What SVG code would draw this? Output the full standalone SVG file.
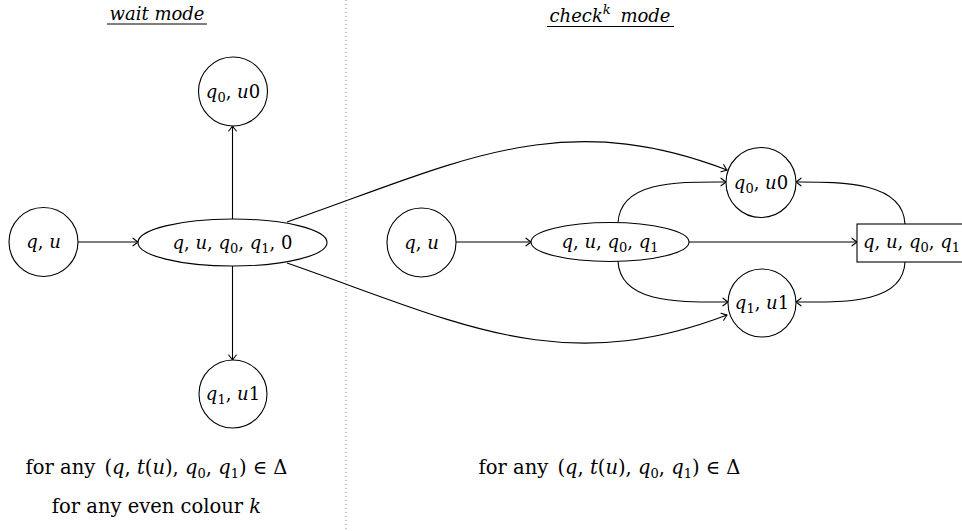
<svg xmlns="http://www.w3.org/2000/svg" width="962" height="531" viewBox="0 0 962 531">
<style>
text{font-family:"DejaVu Serif",serif;font-size:18px;fill:#000;text-anchor:middle}
.i{font-style:italic}
.s{font-size:13px}
.b{font-size:19.5px}
.n{fill:#fff;stroke:#000;stroke-width:1.1}
.e{fill:none;stroke:#000;stroke-width:1.1;marker-end:url(#ah)}
.u{stroke:#000;stroke-width:1.1}
</style>
<defs>
<marker id="ah" viewBox="-6 -5 8 10" markerWidth="8" markerHeight="10" refX="0" refY="0" orient="auto" markerUnits="userSpaceOnUse">
<path d="M-5,-3.8 Q-1.5,-1 0,0 Q-1.5,1 -5,3.8" fill="none" stroke="#000" stroke-width="1.1" stroke-linecap="round"/>
</marker>
</defs>
<rect width="962" height="531" fill="#fff"/>
<line x1="346" y1="0" x2="346" y2="531" stroke="#888" stroke-width="1" stroke-dasharray="1 3"/>
<g id="titles">
<text x="157" y="20" class="i">wait mode</text>
<line class="u" x1="107" y1="24" x2="207" y2="24"/>
<text x="610" y="22"><tspan class="i">check</tspan><tspan class="s i" dy="-8">k</tspan><tspan class="i" dy="8" dx="4"> mode</tspan></text>
<line class="u" x1="547" y1="26.5" x2="674" y2="26.5"/>
</g>
<g id="connectors">
<path class="e" d="M78,242 L138,242"/>
<path class="e" d="M232.5,219 L232.5,126"/>
<path class="e" d="M232.5,266 L232.5,360"/>
<path class="e" d="M287,222 C457,163 559,105.6 727,170"/>
<path class="e" d="M287,263 C457,322 559,379 727,315"/>
<path class="e" d="M456,242 L531,242"/>
<path class="e" d="M618,223 C620,180 680,182 726,182"/>
<path class="e" d="M618,261 C620,304 680,302 728,302"/>
<path class="e" d="M689,242 L857,242"/>
<path class="e" d="M905,224 C903,181 840,182 796,182"/>
<path class="e" d="M905,262 C903,305 840,302 796,302"/>
</g>
<g id="w_qu"><circle class="n" cx="43.5" cy="242" r="34.5"/><text x="43.5" y="248"><tspan class="i">q</tspan>, <tspan class="i">u</tspan></text></g>
<g id="w_mid"><ellipse class="n" cx="232.5" cy="242.5" rx="94.5" ry="23.5"/><text x="232.5" y="248.5"><tspan class="i">q</tspan>, <tspan class="i">u</tspan>, <tspan class="i">q</tspan><tspan class="s" dy="4">0</tspan><tspan dy="-4">, </tspan><tspan class="i">q</tspan><tspan class="s" dy="4">1</tspan><tspan dy="-4">, 0</tspan></text></g>
<g id="w_q0"><circle class="n" cx="233" cy="91.5" r="34.5"/><text x="233" y="97.5"><tspan class="i">q</tspan><tspan class="s" dy="4">0</tspan><tspan dy="-4">, </tspan><tspan class="i">u</tspan>0</text></g>
<g id="w_q1"><circle class="n" cx="233" cy="394" r="34"/><text x="233" y="400"><tspan class="i">q</tspan><tspan class="s" dy="4">1</tspan><tspan dy="-4">, </tspan><tspan class="i">u</tspan>1</text></g>
<g id="c_qu"><circle class="n" cx="421.5" cy="242.5" r="34.5"/><text x="421.5" y="248.5"><tspan class="i">q</tspan>, <tspan class="i">u</tspan></text></g>
<g id="c_mid"><ellipse class="n" cx="610" cy="242" rx="79" ry="19.5"/><text x="610" y="248"><tspan class="i">q</tspan>, <tspan class="i">u</tspan>, <tspan class="i">q</tspan><tspan class="s" dy="4">0</tspan><tspan dy="-4">, </tspan><tspan class="i">q</tspan><tspan class="s" dy="4">1</tspan></text></g>
<g id="c_q0"><circle class="n" cx="761" cy="182.5" r="35"/><text x="761" y="188.5"><tspan class="i">q</tspan><tspan class="s" dy="4">0</tspan><tspan dy="-4">, </tspan><tspan class="i">u</tspan>0</text></g>
<g id="c_q1"><circle class="n" cx="762" cy="303" r="34"/><text x="762" y="309"><tspan class="i">q</tspan><tspan class="s" dy="4">1</tspan><tspan dy="-4">, </tspan><tspan class="i">u</tspan>1</text></g>
<g id="c_rect"><rect class="n" x="857" y="224" width="109" height="38"/><text x="911.5" y="248"><tspan class="i">q</tspan>, <tspan class="i">u</tspan>, <tspan class="i">q</tspan><tspan class="s" dy="4">0</tspan><tspan dy="-4">, </tspan><tspan class="i">q</tspan><tspan class="s" dy="4">1</tspan></text></g>
<g id="notes">
<text class="b" x="156.5" y="474">for any <tspan dx="3">(</tspan><tspan class="i">q</tspan>, <tspan class="i">t</tspan>(<tspan class="i">u</tspan>), <tspan class="i">q</tspan><tspan class="s" dy="4">0</tspan><tspan dy="-4">, </tspan><tspan class="i">q</tspan><tspan class="s" dy="4">1</tspan><tspan dy="-4">) ∈ Δ</tspan></text>
<text class="b" x="156.5" y="513">for any even colour <tspan class="i">k</tspan></text>
<text class="b" x="609.5" y="474">for any <tspan dx="3">(</tspan><tspan class="i">q</tspan>, <tspan class="i">t</tspan>(<tspan class="i">u</tspan>), <tspan class="i">q</tspan><tspan class="s" dy="4">0</tspan><tspan dy="-4">, </tspan><tspan class="i">q</tspan><tspan class="s" dy="4">1</tspan><tspan dy="-4">) ∈ Δ</tspan></text>
</g>
</svg>
